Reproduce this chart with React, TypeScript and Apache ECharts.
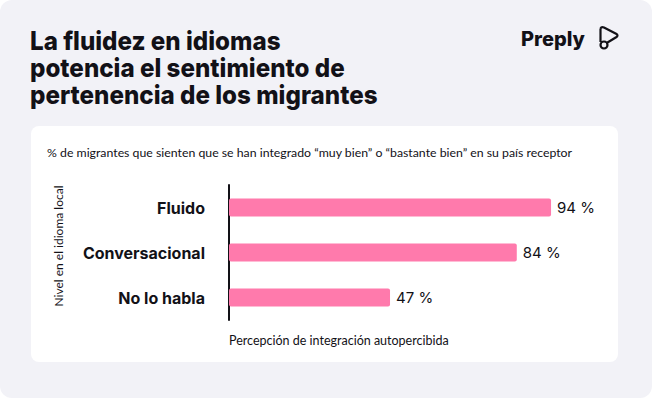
import React, { useEffect, useRef } from "react";
import * as echarts from "echarts";

const categories = ["Fluido", "Conversacional", "No lo habla"];
const values = [94, 84, 47];
const titleLines = [
  "La fluidez en idiomas",
  "potencia el sentimiento de",
  "pertenencia de los migrantes",
];
const subtitle =
  "% de migrantes que sienten que se han integrado “muy bien” o “bastante bien” en su país receptor";
const yAxisName = "Nivel en el idioma local";
const xAxisName = "Percepción de integración autopercibida";
const brand = "Preply";

const BOLD_FONT = "Inter, sans-serif";
const TEXT_FONT = "Lato, Inter, sans-serif";

export default function App() {
  const ref = useRef<HTMLDivElement>(null);
  useEffect(() => {
    document.body.style.margin = "0";
    if (!ref.current) return;
    try {
      echarts.graphic.registerShape(
        "prelogo",
        echarts.graphic.extendPath(
          "M2.5 2.5 L2.5 16 M2.5 2.5 Q3.5 0.5 6 1.6 L18.5 8 Q20.5 9.5 18.5 11 L9.5 16.5 M2.5 19 A3.5 3.5 0 1 0 9.5 19 A3.5 3.5 0 1 0 2.5 19",
          {}
        )
      );
    } catch (e) {}
    const chart = echarts.init(ref.current, null, { renderer: "svg" });
    chart.setOption({
      animation: false,
      backgroundColor: "transparent",
      grid: { left: 229, right: 80.4, top: 185, bottom: 78, containLabel: false },
      xAxis: {
        type: "value",
        min: 0,
        max: 100,
        show: false,
      },
      yAxis: {
        type: "category",
        data: categories,
        inverse: true,
        axisLine: { show: true, lineStyle: { color: "#121117", width: 2 } },
        axisTick: { show: false },
        axisLabel: {
          margin: 24,
          fontSize: 16,
          fontWeight: "bold",
          color: "#121117",
          fontFamily: BOLD_FONT,
        },
      },
      series: [
        {
          type: "bar",
          data: values,
          barWidth: 18,
          itemStyle: { color: "#ff7aac", borderRadius: 2 },
          label: {
            show: true,
            position: "right",
            distance: 6,
            formatter: (p: any) => p.value + " %",
            fontSize: 15,
            color: "#121117",
            fontFamily: "Inter, sans-serif",
          },
        },
      ],
      graphic: [
        {
          type: "rect",
          z: -10,
          shape: { x: 0, y: 0, width: 652, height: 398, r: 12 },
          style: { fill: "#f2f2f7" },
        },
        {
          type: "rect",
          z: -9,
          shape: { x: 31, y: 126, width: 587, height: 236, r: 8 },
          style: { fill: "#ffffff" },
        },
        ...titleLines.map((t, i) => ({
          type: "text",
          x: 30,
          y: 41 + i * 27,
          scaleX: 0.93,
          style: {
            text: t,
            fontSize: 26,
            lineHeight: 26,
            fontWeight: 800,
            fontFamily: BOLD_FONT,
            fill: "#121117",
            verticalAlign: "middle",
          },
        })),
        {
          type: "text",
          x: 521,
          y: 39,
          style: {
            text: brand,
            fontSize: 20,
            fontWeight: 800,
            fontFamily: BOLD_FONT,
            fill: "#121117",
            verticalAlign: "middle",
          },
        },
        {
          type: "prelogo",
          x: 598,
          y: 26,
          scaleX: 1,
          scaleY: 1,
          style: { fill: "none", stroke: "#121117", lineWidth: 2.2 },
        },
        {
          type: "text",
          x: 47,
          y: 152,
          style: {
            text: subtitle,
            fontSize: 12.3,
            fontFamily: TEXT_FONT,
            fill: "#121117",
            verticalAlign: "middle",
          },
        },
        {
          type: "text",
          x: 58,
          y: 246,
          rotation: Math.PI / 2,
          style: {
            text: yAxisName,
            fontSize: 12,
            fontFamily: TEXT_FONT,
            fill: "#121117",
            align: "center",
            verticalAlign: "middle",
          },
        },
        {
          type: "text",
          x: 229,
          y: 340,
          style: {
            text: xAxisName,
            fontSize: 12.5,
            fontFamily: TEXT_FONT,
            fill: "#121117",
            verticalAlign: "middle",
          },
        },
      ],
    });
    return () => chart.dispose();
  }, []);
  return (
    <div
      ref={ref}
      style={{ position: "fixed", left: 0, top: 0, width: 652, height: 398, background: "#ffffff" }}
    />
  );
}
